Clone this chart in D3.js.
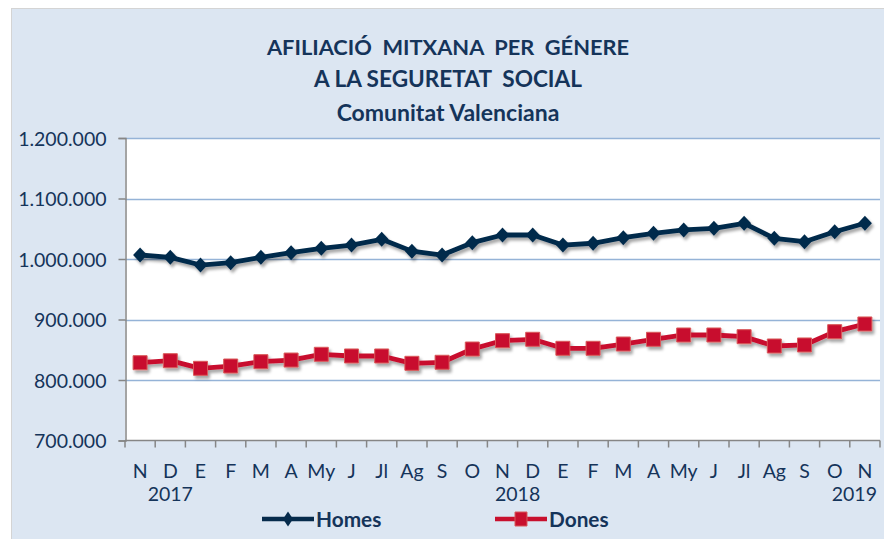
<!DOCTYPE html>
<html>
<head>
<meta charset="utf-8">
<script src="https://cdn.jsdelivr.net/npm/d3@7"></script>
<style>
  body { margin: 0; background: #fff; }
  text { font-family: Lato, "Open Sans", sans-serif; fill: #15345a; }
</style>
</head>
<body>
<div id="chart"></div>
<script>
const months = ["N","D","E","F","M","A","My","J","Jl","Ag","S","O",
                "N","D","E","F","M","A","My","J","Jl","Ag","S","O","N"];
const years = ["2017", "2018", "2019"];
const homes = [1006600, 1002800, 990000, 994000, 1002800, 1010400, 1017600, 1023000, 1032500,
               1013000, 1006600, 1027000, 1039700, 1039700, 1023000, 1026000, 1035300, 1042500,
               1048000, 1050700, 1059000, 1034200, 1028600, 1045000, 1059000];
const dones = [828600, 831900, 819300, 823100, 830300, 833000, 842500, 839700, 839700,
               827600, 829300, 851200, 865000, 867300, 852400, 852400, 859500, 867300,
               874400, 874400, 871600, 856200, 857900, 879900, 892600];
const yTicks = [700000, 800000, 900000, 1000000, 1100000, 1200000];
const titleLines = ["AFILIACIÓ  MITXANA  PER  GÉNERE", "A LA SEGURETAT  SOCIAL", "Comunitat Valenciana"];

const width = 884,
    height = 539,
    plot = { left: 125, right: 880, top: 138, bottom: 440.5 };

const locale = d3.formatLocale({ decimal: ",", thousands: ".", grouping: [3], currency: ["", "€"] });
const fmt = locale.format(",d");

const x = d3.scaleBand()
    .domain(d3.range(months.length))
    .range([plot.left, plot.right])
    .padding(0);

const y = d3.scaleLinear()
    .domain([700000, 1200000])
    .range([plot.bottom, plot.top]);

const svg = d3.select("#chart").append("svg")
    .attr("width", width)
    .attr("height", height);

const defs = svg.append("defs");
const shadow = defs.append("filter")
    .attr("id", "shadow")
    .attr("x", "-5%").attr("y", "-30%")
    .attr("width", "110%").attr("height", "160%");
shadow.append("feDropShadow")
    .attr("dx", 2).attr("dy", 3)
    .attr("stdDeviation", 1.8)
    .attr("flood-color", "#000")
    .attr("flood-opacity", 0.35);

// chart background
svg.append("rect")
    .attr("x", 11.5).attr("y", 8.5)
    .attr("width", width - 11).attr("height", height - 8)
    .attr("fill", "#dce6f2")
    .attr("stroke", "#d4d4d4");

// title
const titleSize = [21.8, 22.6, 23];
svg.append("g")
    .attr("font-weight", "bold")
  .selectAll("text")
    .data(titleLines)
  .enter().append("text")
    .attr("x", 448)
    .attr("y", function(d, i) { return [55, 87, 121][i]; })
    .attr("text-anchor", "middle")
    .attr("font-size", function(d, i) { return titleSize[i]; })
    .style("white-space", "pre")
    .text(function(d) { return d; });

// plot area
svg.append("rect")
    .attr("x", plot.left).attr("y", plot.top)
    .attr("width", plot.right - plot.left)
    .attr("height", plot.bottom - plot.top)
    .attr("fill", "#fff");

// gridlines
svg.append("g")
  .selectAll("line")
    .data(yTicks.slice(1))
  .enter().append("line")
    .attr("x1", plot.left).attr("x2", plot.right)
    .attr("y1", function(d) { return Math.round(y(d)) + 0.5; })
    .attr("y2", function(d) { return Math.round(y(d)) + 0.5; })
    .attr("stroke", "#95b3d7")
    .attr("stroke-width", 1.5);

// y axis
const yAxis = svg.append("g")
    .attr("transform", "translate(" + (plot.left + 0.5) + ",0)")
    .call(d3.axisLeft(y).tickValues(yTicks).tickFormat(fmt).tickSize(7).tickPadding(12));
yAxis.select(".domain").attr("stroke", "#868686").attr("stroke-width", 1.5);
yAxis.selectAll(".tick line").attr("stroke", "#868686").attr("stroke-width", 1.5);
yAxis.selectAll(".tick text")
    .attr("font-size", 19.5)
    .attr("dy", "0.36em")
    .style("font-family", "Lato, sans-serif")
    .attr("fill", "#15345a");

// x axis: tick marks between categories, labels centred
const xAxis = svg.append("g")
    .attr("transform", "translate(0," + (plot.bottom) + ")");
xAxis.append("line")
    .attr("x1", plot.left).attr("x2", plot.right)
    .attr("stroke", "#868686").attr("stroke-width", 1.5);
xAxis.selectAll(".xtick")
    .data(d3.range(months.length + 1))
  .enter().append("line")
    .attr("class", "xtick")
    .attr("x1", function(i) { return x(0) + i * x.step(); })
    .attr("x2", function(i) { return x(0) + i * x.step(); })
    .attr("y1", 0).attr("y2", 7)
    .attr("stroke", "#868686").attr("stroke-width", 1.5);
xAxis.selectAll(".month")
    .data(months)
  .enter().append("text")
    .attr("class", "month")
    .attr("x", function(d, i) { return x(i) + x.bandwidth() / 2; })
    .attr("y", 37.5)
    .attr("text-anchor", "middle")
    .attr("font-size", 19.5)
    .text(function(d) { return d; });

// years sit under the N of each November (aligned as in the original)
const yearAt = [1, 12.5, 23.65];
xAxis.selectAll(".year")
    .data(years)
  .enter().append("text")
    .attr("class", "year")
    .attr("x", function(d, i) { return x(0) + (yearAt[i] + 0.5) * x.step(); })
    .attr("y", 60)
    .attr("text-anchor", "middle")
    .attr("font-size", 19.5)
    .text(function(d) { return d; });

// series
const line = d3.line()
    .x(function(d, i) { return x(i) + x.bandwidth() / 2; })
    .y(function(d) { return y(d); });

const series = [
  { name: "Homes", values: homes, color: "#062b4c", marker: "diamond" },
  { name: "Dones", values: dones, color: "#c8102e", marker: "square" }
];

series.forEach(function(s) {
  const g = svg.append("g").attr("filter", "url(#shadow)");
  g.append("path")
      .attr("d", line(s.values))
      .attr("fill", "none")
      .attr("stroke", s.color)
      .attr("stroke-width", 4.8)
      .attr("stroke-linejoin", "round");
  g.selectAll("path.pt")
      .data(s.values)
    .enter().append("path")
      .attr("class", "pt")
      .attr("transform", function(d, i) {
        return "translate(" + (x(i) + x.bandwidth() / 2) + "," + y(d) + ")";
      })
      .attr("d", s.marker === "diamond" ? "M0,-7.5L7,0L0,7.5L-7,0Z" : "M-7,-7H7V7H-7Z")
      .attr("fill", s.color)
      .attr("stroke", s.marker === "square" ? "#d9595a" : "none")
      .attr("stroke-width", 1);
});

// legend
const legend = svg.append("g")
    .attr("font-weight", "bold");
const legendX = [262, 495];
series.forEach(function(s, i) {
  const g = legend.append("g").attr("transform", "translate(" + legendX[i] + ",519)");
  g.append("line")
      .attr("x1", 0).attr("x2", 52)
      .attr("stroke", s.color).attr("stroke-width", 4.5);
  g.append("path")
      .attr("transform", "translate(26,0)")
      .attr("d", s.marker === "diamond" ? "M0,-7.5L5,0L0,7.5L-5,0Z" : "M-6,-7H6V7H-6Z")
      .attr("fill", s.color)
      .attr("stroke", s.marker === "square" ? "#d9595a" : "none");
  g.append("text")
      .attr("x", 54)
      .attr("y", 0)
      .attr("dy", "0.36em")
      .attr("font-size", 20.8)
      .text(s.name);
});
</script>
</body>
</html>
